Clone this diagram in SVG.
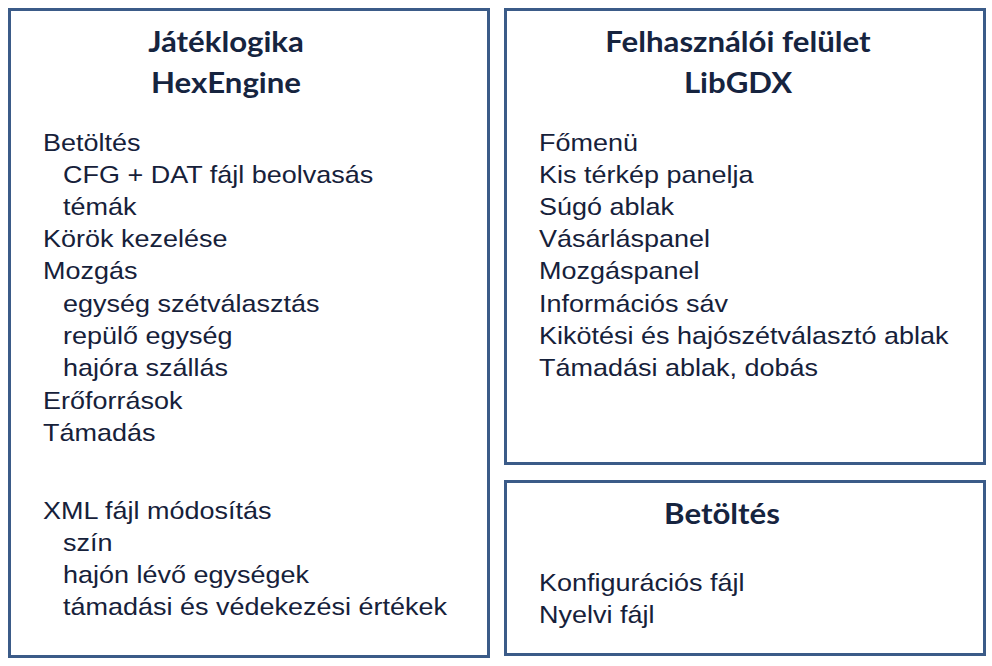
<svg xmlns="http://www.w3.org/2000/svg" width="992" height="666" viewBox="0 0 992 666">
<style>
.box{fill:#fff;stroke:#3B5B88;stroke-width:3}
.t{font-family:Lato,"Open Sans",sans-serif;font-weight:bold;font-size:27.75px;fill:#16243F;text-anchor:middle}
.b{font-family:"Liberation Sans",Arial,sans-serif;font-size:24px;fill:#16213A}
</style>
<rect width="992" height="666" fill="#fff"/>
<g id="jateklogika">
<rect class="box" x="9.5" y="9.5" width="479" height="647"/>
<g transform="scale(1.125 1)">
<text class="t" x="200.9" y="52">Játéklogika</text>
<text class="t" x="200.9" y="93">HexEngine</text>
<text class="b" x="38.2" y="151">Betöltés</text>
<text class="b" x="56" y="183">CFG + DAT fájl beolvasás</text>
<text class="b" x="56" y="215">témák</text>
<text class="b" x="38.2" y="247">Körök kezelése</text>
<text class="b" x="38.2" y="279">Mozgás</text>
<text class="b" x="56" y="312">egység szétválasztás</text>
<text class="b" x="56" y="344">repülő egység</text>
<text class="b" x="56" y="376">hajóra szállás</text>
<text class="b" x="38.2" y="409">Erőforrások</text>
<text class="b" x="38.2" y="441">Támadás</text>
<text class="b" x="38.2" y="519">XML fájl módosítás</text>
<text class="b" x="56" y="551">szín</text>
<text class="b" x="56" y="583">hajón lévő egységek</text>
<text class="b" x="56" y="615">támadási és védekezési értékek</text>
</g>
</g>
<g id="felhasznaloi">
<rect class="box" x="505.5" y="9.5" width="479" height="454"/>
<g transform="scale(1.125 1)">
<text class="t" x="656" y="52">Felhasználói felület</text>
<text class="t" x="656" y="93">LibGDX</text>
<text class="b" x="479.1" y="151">Főmenü</text>
<text class="b" x="479.1" y="183">Kis térkép panelja</text>
<text class="b" x="479.1" y="215">Súgó ablak</text>
<text class="b" x="479.1" y="247">Vásárláspanel</text>
<text class="b" x="479.1" y="279">Mozgáspanel</text>
<text class="b" x="479.1" y="312">Információs sáv</text>
<text class="b" x="479.1" y="344">Kikötési és hajószétválasztó ablak</text>
<text class="b" x="479.1" y="376">Támadási ablak, dobás</text>
</g>
</g>
<g id="betoltes">
<rect class="box" x="505.5" y="481.5" width="479" height="173"/>
<g transform="scale(1.125 1)">
<text class="t" x="641.8" y="524">Betöltés</text>
<text class="b" x="479.1" y="591">Konfigurációs fájl</text>
<text class="b" x="479.1" y="623">Nyelvi fájl</text>
</g>
</g>
<g id="connectors"/>
</svg>
